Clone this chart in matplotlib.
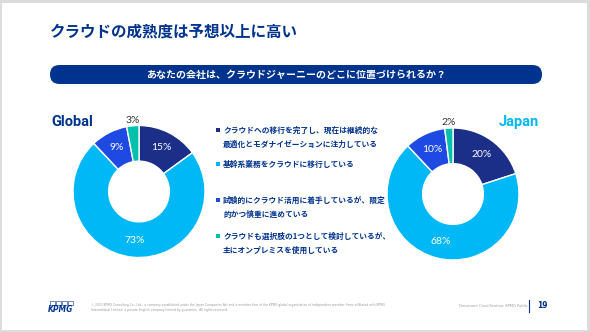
import numpy as np
import matplotlib.pyplot as plt
from matplotlib.patches import FancyBboxPatch, Rectangle

plt.rcParams['font.family'] = ['Noto Sans CJK JP', 'DejaVu Sans']

TITLE = 'クラウドの成熟度は予想以上に高い'
QUESTION = 'あなたの会社は、クラウドジャーニーのどこに位置づけられるか？'

legend_lines = [
    ['クラウドへの移行を完了し、現在は継続的な', '最適化とモダナイゼーションに注力している'],
    ['基幹系業務をクラウドに移行している'],
    ['試験的にクラウド活用に着手しているが、限定', '的かつ慎重に進めている'],
    ['クラウドも選択肢の1つとして検討しているが、', '主にオンプレミスを使用している'],
]
global_vals = [15, 73, 9, 3]
japan_vals = [20, 68, 10, 2]
colors = ['#1B2E88', '#00B8F5', '#1E49E2', '#00C0AE']

NAVY = '#00338D'
W, H = 590, 332

fig = plt.figure(figsize=(W / 100, H / 100), dpi=100)
fig.patch.set_facecolor('#dcdcdc')
bg = fig.add_axes([0, 0, 1, 1])
bg.set_xlim(0, W)
bg.set_ylim(H, 0)
bg.axis('off')
bg.add_patch(Rectangle((2, 3), 585, 327, facecolor='white', edgecolor='none'))

# title + question banner
bg.text(50, 32, TITLE, fontsize=11.2, fontweight='bold', color=NAVY, va='center', ha='left')
bg.add_patch(FancyBboxPatch((50, 65), 492, 19, boxstyle='round,pad=0,rounding_size=9.5',
                            facecolor=NAVY, edgecolor='none'))
bg.text(296, 75, QUESTION, fontsize=7.2, fontweight='bold', color='white', va='center', ha='center')


def donut(cx, cy, vals, name, name_x, name_color):
    r = 66
    ax = fig.add_axes([(cx - r) / W, (H - cy - r) / H, 2 * r / W, 2 * r / H])
    ax.pie(vals, colors=colors, startangle=90, counterclock=False, radius=1,
           wedgeprops=dict(width=0.54, edgecolor='white', linewidth=1))
    ax.set_xlim(-1, 1)
    ax.set_ylim(-1, 1)
    cum = np.cumsum([0] + vals)
    for i, v in enumerate(vals):
        ang = np.deg2rad(90 - 360 * (cum[i] + v / 2) / 100)
        if v >= 5:
            d, c = 0.74, 'white'
        else:
            d, c = 1.08, '#333333'
        ax.text(d * np.cos(ang), d * np.sin(ang), f'{v}%', ha='center', va='center',
                fontsize=7.5, color=c, family=['Lato', 'DejaVu Sans'])
    bg.text(name_x, 122, name, fontsize=10.5, fontweight='bold', color=name_color,
            va='center', ha='left', family=['Roboto', 'DejaVu Sans'])


donut(139, 191.5, global_vals, 'Global', 51, NAVY)
donut(453, 194, japan_vals, 'Japan', 499, '#00B8F5')

# legend
ys = [130, 164, 200, 236]
for y0, lines, c in zip(ys, legend_lines, colors):
    bg.add_patch(Rectangle((215.5, y0 - 2), 4, 4, facecolor=c, edgecolor='none'))
    for k, line in enumerate(lines):
        bg.text(223, y0 + k * 14.5, line, fontsize=5.55, fontweight='bold', color=NAVY,
                va='center', ha='left')

# footer
for k in range(4):
    bg.add_patch(Rectangle((49.5 + k * 6, 301), 5, 4, facecolor='none', edgecolor=NAVY, linewidth=0.4))
bg.text(61, 309, 'KPMG', fontsize=5.5, fontweight='bold', style='italic', color=NAVY,
        ha='center', va='center', family='DejaVu Sans')
bg.text(91, 305, '© 2023 KPMG Consulting Co., Ltd., a company established under the Japan Companies Act and a member firm of the KPMG global organization of independent member firms affiliated with KPMG',
        fontsize=2.2, color='#999999', va='center', ha='left', family='DejaVu Sans')
bg.text(91, 310, 'International Limited, a private English company limited by guarantee. All rights reserved.',
        fontsize=2.2, color='#999999', va='center', ha='left', family='DejaVu Sans')
bg.text(459, 306, 'Document Classification: KPMG Public', fontsize=2.6, color='#999999',
        va='center', ha='left', family='DejaVu Sans')
bg.plot([529, 529], [300, 312], color=NAVY, linewidth=0.8)
bg.text(537, 306, '19', fontsize=5.5, fontweight='bold', color=NAVY, va='center', ha='left',
        family='DejaVu Sans')

fig.savefig('out.png', dpi=100, facecolor=fig.get_facecolor())
